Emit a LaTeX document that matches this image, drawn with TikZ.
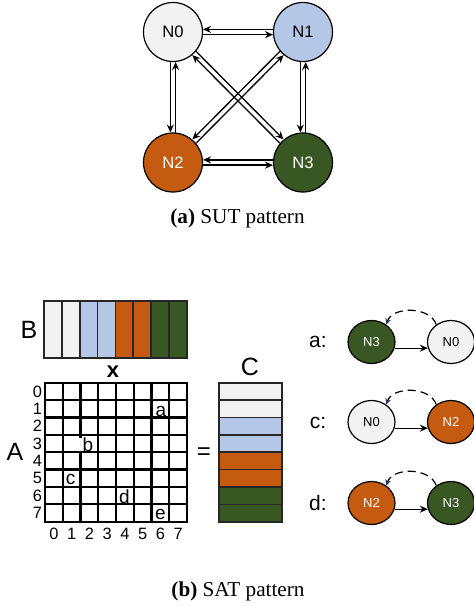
\documentclass[tikz,border=0pt]{standalone}
\usepackage{fontspec}
\setmainfont{Liberation Serif}
\setsansfont{Liberation Sans}
\usetikzlibrary{arrows.meta}
\usetikzlibrary{shapes.geometric}

\definecolor{clrgray}{HTML}{F2F2F2}
\definecolor{clrblue}{HTML}{B4C7E7}
\definecolor{clrorange}{HTML}{C55A11}
\definecolor{clrgreen}{HTML}{385723}
\definecolor{clrnavy}{HTML}{1F3864}

\tikzset{
  sutnode/.style={circle, draw, line width=0.6pt, minimum size=29.5pt, inner sep=0pt,
    font=\sffamily\fontsize{8.3}{10}\selectfont},
  satnode/.style={ellipse, draw, line width=0.6pt, minimum width=23.5pt, minimum height=21.5pt,
    inner sep=0pt, font=\sffamily\fontsize{6.5}{8}\selectfont},
  link/.style={line width=0.65pt, arrows=-{Stealth[length=4pt,width=3.5pt]}},
  back/.style={line width=0.6pt, dash pattern=on 4pt off 2.5pt,
    arrows=-{Stealth[length=3pt,width=3pt,color=clrnavy]}},
  cellbox/.style={draw=black!85, line width=0.8pt},
  bigtag/.style={font=\sffamily\fontsize{12.5}{14}\selectfont, inner sep=0pt},
  numtag/.style={font=\sffamily\fontsize{8.2}{9}\selectfont, inner sep=0pt},
  hittag/.style={font=\sffamily\fontsize{9.5}{11}\selectfont, fill=white, inner sep=0pt},
  rowtag/.style={font=\sffamily\fontsize{10.5}{12}\selectfont, inner sep=0pt},
  captag/.style={font=\fontsize{10.6}{12}\selectfont, anchor=base},
}

\begin{document}
\begin{tikzpicture}[x={(0.5pt,0pt)}, y={(0pt,-0.5pt)}]
  \useasboundingbox (0,0) rectangle (474,606);

  % (a) SUT pattern
  \node[sutnode, fill=clrgray] (n0) at (173,32) {N0};
  \node[sutnode, fill=clrblue] (n1) at (303,32) {N1};
  \node[sutnode, fill=clrorange, text=white] (n2) at (173,162.5) {N2};
  \node[sutnode, fill=clrgreen, text=white] (n3) at (303,162.5) {N3};
  \path[draw, link] (n1.175) -- (n0.5);
  \path[draw, link] (n0.-5) -- (n1.185);
  \path[draw, link] (n3.175) -- (n2.5);
  \path[draw, link] (n2.-5) -- (n3.185);
  \path[draw, link] (n0.-95) -- (n2.95);
  \path[draw, link] (n2.85) -- (n0.-85);
  \path[draw, link] (n1.-95) -- (n3.95);
  \path[draw, link] (n3.85) -- (n1.-85);
  \path[draw, link] (n3.140) -- (n0.-50);
  \path[draw, link] (n0.-40) -- (n3.130);
  \path[draw, link] (n1.-140) -- (n2.50);
  \path[draw, link] (n2.40) -- (n1.-130);
  \node[captag] (capa) at (237.5,223) {\textbf{(a)} SUT pattern};

  % (b) SAT pattern: B, x, A, =, C
  \foreach \c [count=\i from 0] in {clrgray,clrgray,clrblue,clrblue,clrorange,clrorange,clrgreen,clrgreen}
    \path[cellbox, fill=\c] (44+\i*17.85,301) rectangle ++(17.85,57);
  \node[bigtag] (tagb) at (29,330) {B};
  \node[font=\sffamily\bfseries\fontsize{11}{12}\selectfont, inner sep=0pt] (tagx) at (113,372) {x};

  \foreach \i in {0,...,8} {
    \path[draw, line width=1.1pt, line cap=rect] (45+\i*17.75,382.7) -- (45+\i*17.75,521.7);
    \path[draw, line width=1.1pt, line cap=rect] (45,382.7+\i*17.375) -- (187,382.7+\i*17.375);
  }
  \foreach \i in {0,...,7} {
    \node[numtag, anchor=east] (row\i) at (42.5,391.4+\i*17.375) {\i};
    \node[numtag] (col\i) at (53.9+\i*17.75,533.5) {\i};
  }
  \node[hittag] (hita) at (161,411) {a};
  \node[hittag] (hitb) at (85.8,444.5) {\kern2.2pt b};
  \node[hittag] (hitc) at (70.5,479.5) {c};
  \node[hittag] (hitd) at (124.5,496.5) {d};
  \node[hittag] (hite) at (160.5,514.5) {e};
  \node[bigtag] (taga) at (15,452) {A};
  \node[font=\sffamily\fontsize{12}{13}\selectfont, inner sep=0pt] (eq) at (204,454) {=};

  \foreach \c [count=\i from 0] in {clrgray,clrgray,clrblue,clrblue,clrorange,clrorange,clrgreen,clrgreen}
    \path[cellbox, fill=\c] (219,382.7+\i*17.375) rectangle ++(62.7,17.375);
  \node[bigtag] (tagc) at (250,366.5) {C};

  % hit cases
  \node[rowtag] (casea) at (318,342) {a:};
  \node[satnode, fill=clrgreen, text=white] (sa3) at (371.5,342) {N3};
  \node[satnode, fill=clrgray] (sa0) at (451,342) {N0};
  \path[draw, link] (sa3.-15) -- (sa0.195);
  \path[draw, back] (sa0.130) to[out=110, in=70] (sa3.50);

  \node[rowtag] (casec) at (318,422.5) {c:};
  \node[satnode, fill=clrgray] (sc0) at (371.5,422) {N0};
  \node[satnode, fill=clrorange, text=white] (sc2) at (451,422) {N2};
  \path[draw, link] (sc0.-15) -- (sc2.195);
  \path[draw, back] (sc2.130) to[out=110, in=70] (sc0.50);

  \node[rowtag] (cased) at (318,503) {d:};
  \node[satnode, fill=clrorange, text=white] (sd2) at (371.5,503) {N2};
  \node[satnode, fill=clrgreen, text=white] (sd3) at (451,503) {N3};
  \path[draw, link] (sd2.-15) -- (sd3.195);
  \path[draw, back] (sd3.130) to[out=110, in=70] (sd2.50);

  \node[captag] (capb) at (238,596) {\textbf{(b)} SAT pattern};
\end{tikzpicture}
\end{document}
